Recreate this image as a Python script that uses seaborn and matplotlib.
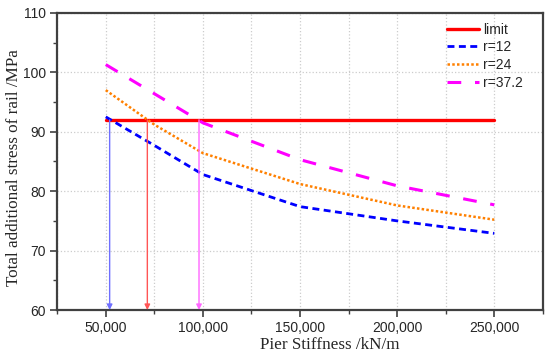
import numpy as np
import pandas as pd
import matplotlib.pyplot as plt
import matplotlib.ticker as mticker
import seaborn as sns

sns.set_theme(style="ticks")
plt.rcParams['font.family'] = ['Liberation Sans', 'DejaVu Sans']

# data
stiffness = [50000, 75000, 100000, 150000, 200000, 250000]
r12 = [92.5, 87.7, 82.8, 77.4, 75.0, 72.9]
r24 = [97.0, 91.2, 86.4, 81.2, 77.6, 75.2]
r37 = [101.3, 96.4, 91.5, 85.3, 80.9, 77.7]
limit_x = [50000, 250000]
limit_y = [92, 92]
cross_x = [52000, 71400, 98000]  # where each curve meets the limit

fig, ax = plt.subplots(figsize=(5.5, 3.58), dpi=100)
fig.subplots_adjust(left=0.104, right=0.987, bottom=0.134, top=0.964)

sns.lineplot(x=limit_x, y=limit_y, color='#ff0000', lw=2.4, label='limit', ax=ax)
sns.lineplot(x=stiffness, y=r12, color='#0000ff', lw=2.0, dashes=(2.5, 1.6), label='r=12', ax=ax)
sns.lineplot(x=stiffness, y=r24, color='#ff8000', lw=1.8, dashes=(1, 0.9), label='r=24', ax=ax)
sns.lineplot(x=stiffness, y=r37, color='#ff00ff', lw=2.2, dashes=(4.5, 4.5), label='r=37.2', ax=ax)

# arrows down from the crossing points
arrow_cols = ['#6f6fff', '#ff5555', '#ff66ff']
for xc, col in zip(cross_x, arrow_cols):
    ax.annotate('', xy=(xc, 60), xytext=(xc, 92),
                arrowprops=dict(arrowstyle='-|>', color=col, lw=1.0,
                                mutation_scale=8, shrinkA=0, shrinkB=0))

ax.set_xlim(25000, 275000)
ax.set_ylim(60, 110)
ax.set_xticks(np.arange(50000, 250001, 50000))
ax.xaxis.set_minor_locator(mticker.MultipleLocator(25000))
ax.yaxis.set_major_locator(mticker.MultipleLocator(10))
ax.yaxis.set_minor_locator(mticker.MultipleLocator(5))
ax.xaxis.set_major_formatter(mticker.FuncFormatter(lambda v, p: f"{int(v):,}"))

ax.grid(True, which='major', axis='y', color='#cccccc', ls=':', lw=0.9)
ax.grid(True, which='both', axis='x', color='#cccccc', ls=':', lw=0.9)

for s in ax.spines.values():
    s.set_linewidth(1.6)
    s.set_color('#404040')
ax.tick_params(which='major', length=5, width=1.2, color='#404040', labelsize=10, pad=3)
ax.tick_params(which='minor', length=3, width=1.0, color='#404040')

ax.set_xlabel('Pier Stiffness /kN/m', family='Liberation Serif', fontsize=12.3)
ax.set_ylabel('Total additional stress of rail /MPa', family='Liberation Serif', fontsize=12.3)
ax.xaxis.set_label_coords(0.562, -0.092)
ax.yaxis.set_label_coords(-0.073, 0.48)

ax.legend(loc='upper left', frameon=False, fontsize=10, handlelength=2.35,
          labelspacing=0.26, handletextpad=0.3, borderpad=0, borderaxespad=0,
          bbox_to_anchor=(0.802, 0.967))

plt.savefig('out.png', dpi=100)
